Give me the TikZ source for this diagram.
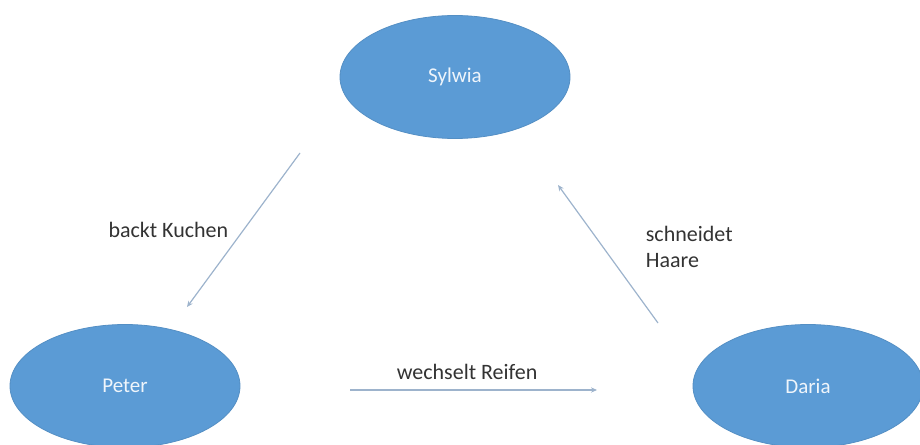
\documentclass[tikz,border=0pt]{standalone}
\usepackage{fontspec}
\setmainfont{Carlito}
\usetikzlibrary{shapes.geometric,arrows.meta}
\definecolor{personblue}{HTML}{5B9BD5}
\definecolor{deedgray}{HTML}{9DB3CC}
\tikzset{
  person/.style={ellipse, fill=personblue, draw=personblue!92!black, line width=0.4pt,
    minimum width=115pt, minimum height=61.5pt, inner sep=0pt,
    text=white!90!personblue, font=\fontsize{10.5}{12}\selectfont},
  deed/.style={draw=deedgray, line width=0.6pt, -{Stealth[length=3pt,width=2.6pt]}},
  deedlabel/.style={text=black!80, font=\fontsize{11}{13}\selectfont}
}
\begin{document}
\begin{tikzpicture}[x=0.5pt,y=-0.5pt]
	\useasboundingbox (0,0) rectangle (920,444);
	\node[person] (sylwia) at (455,77) {Sylwia};
	\node[person] (peter) at (125,386) {Peter};
	\node[person] (daria) at (808,386) {Daria};
	\coordinate (kuchenA) at (300,153);
	\coordinate (kuchenB) at (187,307);
	\coordinate (reifenA) at (350,390);
	\coordinate (reifenB) at (597,390);
	\coordinate (haareA) at (658,323);
	\coordinate (haareB) at (558,185);
	\draw[deed](kuchenA)--(kuchenB) node[deedlabel,pos=0.5, left, xshift=-4pt]{backt Kuchen};
	\draw[deed](reifenA)--(reifenB) node[deedlabel,pos=0.474, above, yshift=1.3pt]{wechselt Reifen};
	\draw[deed](haareA)--(haareB) node[deedlabel,pos=0.554, right, align=left, xshift=18pt]{schneidet\\Haare};
\end{tikzpicture}
\end{document}
